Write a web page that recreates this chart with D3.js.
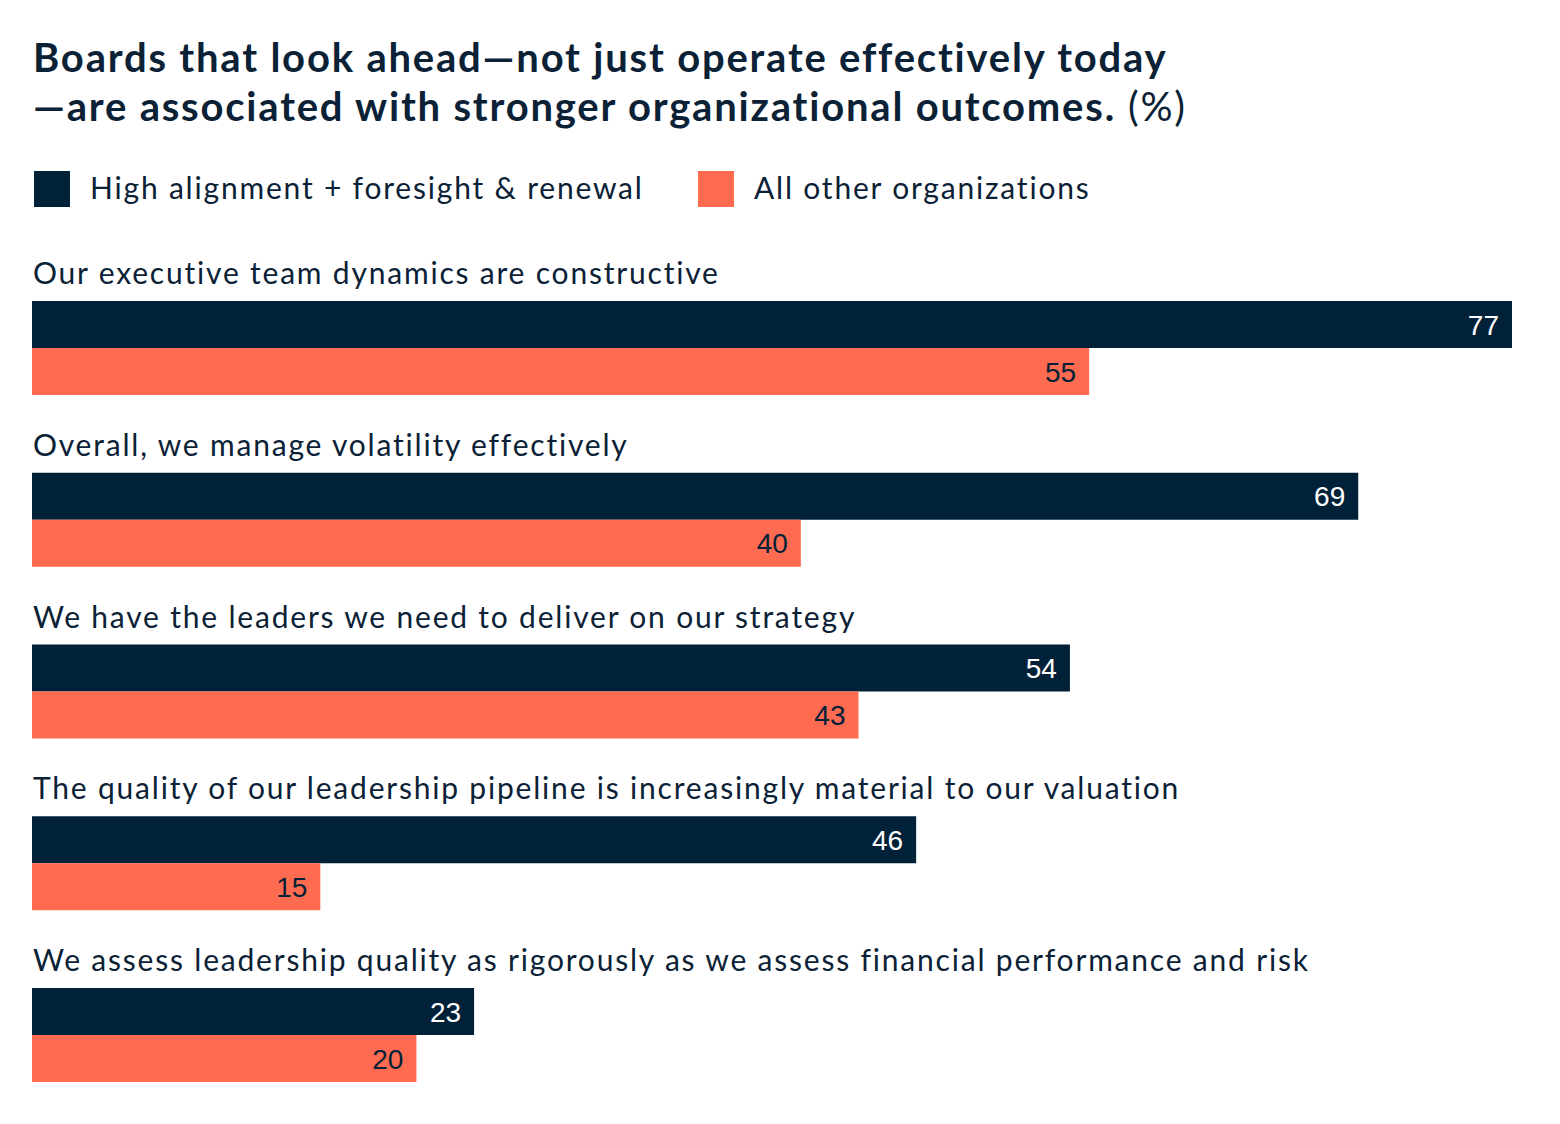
<!DOCTYPE html>
<html>
<head>
<meta charset="utf-8">
<script src="https://cdn.jsdelivr.net/npm/d3@7/dist/d3.min.js"></script>
<style>
  html, body { margin: 0; padding: 0; background: #ffffff; }
  svg { display: block; }
  text { font-variant-ligatures: none; font-feature-settings: "liga" 0, "clig" 0; }
</style>
</head>
<body>
<svg id="chart" width="1560" height="1124"></svg>
<script>
const titleLines = ["Boards that look ahead\u2014not just operate effectively today", "\u2014are associated with stronger organizational outcomes."];
const titleSuffix = " (%)";
const categories = [
  "Our executive team dynamics are constructive",
  "Overall, we manage volatility effectively",
  "We have the leaders we need to deliver on our strategy",
  "The quality of our leadership pipeline is increasingly material to our valuation",
  "We assess leadership quality as rigorously as we assess financial performance and risk"
];
const seriesNames = ["High alignment + foresight & renewal", "All other organizations"];
const highAlignment = [77, 69, 54, 46, 23];
const allOther = [55, 40, 43, 15, 20];

const NAVY = "#012138";
const ORANGE = "#FF6B50";
const TEXT = "#0b2136";
const colors = [NAVY, ORANGE];
const labelColors = ["#ffffff", NAVY];
const FONT = "Lato, 'Noto Sans', sans-serif";
const NUMFONT = "'Liberation Sans', Arial, sans-serif";

const svg = d3.select("#chart");

// Title
const title = svg.append("text")
  .attr("x", 33).attr("y", 72)
  .attr("font-family", FONT).attr("font-size", 40).attr("font-weight", 700)
  .attr("letter-spacing", 1.8)
  .attr("fill", TEXT);
title.append("tspan").attr("x", 33).attr("y", 72).text(titleLines[0]);
title.append("tspan").attr("x", 33).attr("y", 121).text(titleLines[1]);
title.append("tspan").attr("font-weight", 400).text(titleSuffix);

// Legend
const legendX = [34, 698];
seriesNames.forEach((name, i) => {
  svg.append("rect").attr("x", legendX[i]).attr("y", 171).attr("width", 36).attr("height", 36).attr("fill", colors[i]);
  svg.append("text").attr("x", legendX[i] + 56).attr("y", 199)
    .attr("font-family", FONT).attr("font-size", 30).attr("font-weight", 400)
    .attr("letter-spacing", 1.8)
    .attr("fill", TEXT).text(name);
});

// Scales
const x = d3.scaleLinear().domain([0, 77]).range([32, 1512]);
const y = d3.scaleBand().domain(categories).range([301, 301 + 171.75 * 5]).paddingInner(0).paddingOuter(0);
const yInner = d3.scaleBand().domain([0, 1]).range([0, 94]);

const data = categories.map((c, i) => ({ cat: c, vals: [highAlignment[i], allOther[i]] }));

const g = svg.selectAll("g.group").data(data).join("g")
  .attr("class", "group")
  .attr("transform", d => `translate(0,${y(d.cat)})`);

g.append("text")
  .attr("x", 33).attr("y", -17)
  .attr("font-family", FONT).attr("font-size", 30).attr("font-weight", 400)
  .attr("letter-spacing", 1.8)
  .attr("fill", TEXT)
  .text(d => d.cat);

g.selectAll("rect.bar").data(d => d.vals.map((v, k) => ({ v, k }))).join("rect")
  .attr("class", "bar")
  .attr("x", x(0))
  .attr("y", d => yInner(d.k))
  .attr("width", d => x(d.v) - x(0))
  .attr("height", yInner.bandwidth())
  .attr("fill", d => colors[d.k]);

g.selectAll("text.val").data(d => d.vals.map((v, k) => ({ v, k }))).join("text")
  .attr("class", "val")
  .attr("x", d => x(d.v) - 13)
  .attr("y", d => yInner(d.k) + yInner.bandwidth() / 2 + 10)
  .attr("text-anchor", "end")
  .attr("font-family", NUMFONT).attr("font-size", 28)
  .attr("fill", d => labelColors[d.k])
  .text(d => d.v);
</script>
</body>
</html>
